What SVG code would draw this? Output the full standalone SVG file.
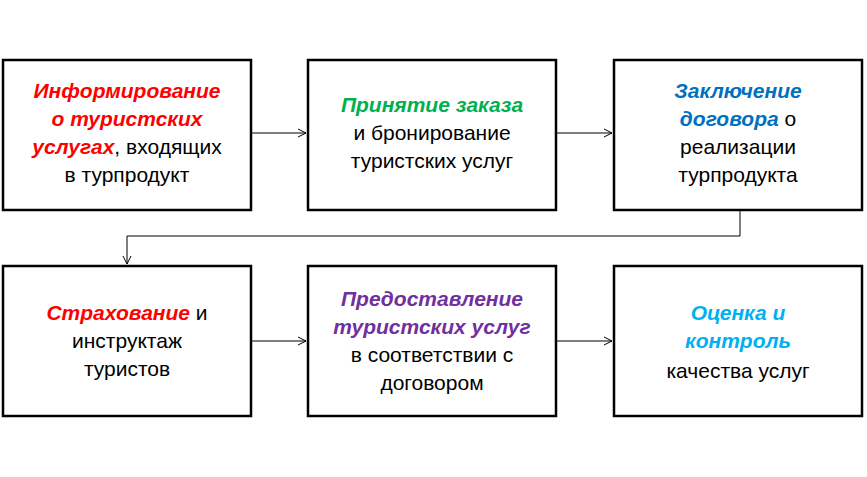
<svg xmlns="http://www.w3.org/2000/svg" width="867" height="477" viewBox="0 0 867 477">
<defs><marker id="a" markerWidth="10" markerHeight="10" refX="9" refY="5" orient="auto" markerUnits="userSpaceOnUse"><path d="M1,1 L9,5 L1,9" fill="none" stroke="#000" stroke-width="1"/></marker></defs>
<style>
.b{fill:#fff;stroke:#000;stroke-width:2.5}
text{font-family:"Liberation Sans",Arial,sans-serif;font-size:21px;text-anchor:middle;fill:#000}
.e{font-weight:bold;font-style:italic}
.c{fill:none;stroke:#000;stroke-width:1;marker-end:url(#a)}
</style>
<rect width="867" height="477" fill="#fff"/>
<g id="n1"><rect class="b" x="3" y="60" width="248" height="150"/>
<text x="127" y="98"><tspan class="e" fill="#ff0000">Информирование</tspan></text>
<text x="127" y="126"><tspan class="e" fill="#ff0000">о туристских</tspan></text>
<text x="127" y="154"><tspan class="e" fill="#ff0000">услугах</tspan>, входящих</text>
<text x="127" y="182">в турпродукт</text></g>
<g id="n2"><rect class="b" x="308" y="60" width="248" height="150"/>
<text x="432" y="112"><tspan class="e" fill="#00b050">Принятие заказа</tspan></text>
<text x="432" y="140">и бронирование</text>
<text x="432" y="168">туристских услуг</text></g>
<g id="n3"><rect class="b" x="614" y="60" width="248" height="150"/>
<text x="738" y="98"><tspan class="e" fill="#0070c0">Заключение</tspan></text>
<text x="738" y="126"><tspan class="e" fill="#0070c0">договора</tspan> о</text>
<text x="738" y="154">реализации</text>
<text x="738" y="182">турпродукта</text></g>
<g id="n4"><rect class="b" x="3" y="266" width="248" height="150"/>
<text x="127" y="320"><tspan class="e" fill="#ff0000">Страхование</tspan> и</text>
<text x="127" y="348">инструктаж</text>
<text x="127" y="376">туристов</text></g>
<g id="n5"><rect class="b" x="308" y="266" width="248" height="150"/>
<text x="432" y="306"><tspan class="e" fill="#7030a0">Предоставление</tspan></text>
<text x="432" y="334"><tspan class="e" fill="#7030a0">туристских услуг</tspan></text>
<text x="432" y="362">в соответствии с</text>
<text x="432" y="390">договором</text></g>
<g id="n6"><rect class="b" x="614" y="266" width="248" height="150"/>
<text x="738" y="320"><tspan class="e" fill="#00b0f0">Оценка и</tspan></text>
<text x="738" y="348"><tspan class="e" fill="#00b0f0">контроль</tspan></text>
<text x="738" y="378">качества услуг</text></g>
<g id="connectors">
<path class="c" d="M252,133 H306"/>
<path class="c" d="M557,133 H612"/>
<path class="c" d="M740,211 V236 H127 V264"/>
<path class="c" d="M252,341 H306"/>
<path class="c" d="M557,341 H612"/>
</g>
</svg>
